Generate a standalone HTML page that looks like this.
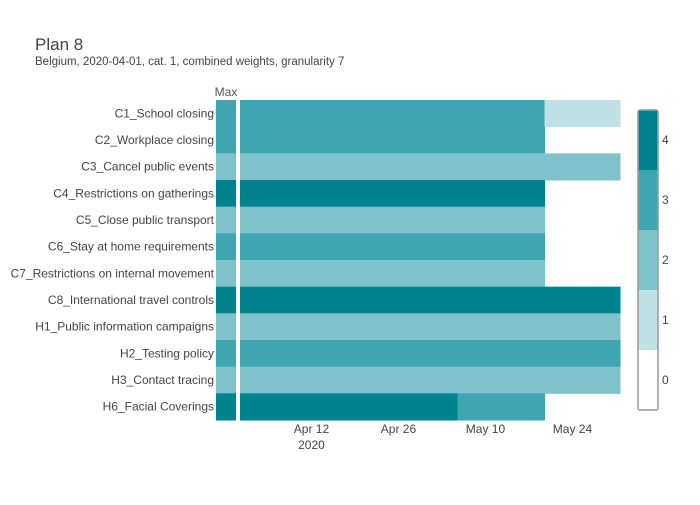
<!DOCTYPE html>
<html><head><meta charset="utf-8"><style>
body{margin:0;background:#fff;font-family:"Liberation Sans",sans-serif}
svg text{font-family:"Liberation Sans",sans-serif}
</style></head><body>
<svg width="700" height="500">
<text x="35" y="50" font-size="17" fill="#444">Plan 8</text>
<text x="35" y="65" font-size="11.5" fill="#444">Belgium, 2020-04-01, cat. 1, combined weights, granularity 7</text>
<text x="226" y="96" font-size="12" fill="#555" text-anchor="middle">Max</text>
<g id="cells"></g><g id="labels"></g><g id="xaxis"></g><g id="cbar"></g>
</svg>
<script>
const categories=["C1_School closing","C2_Workplace closing","C3_Cancel public events","C4_Restrictions on gatherings","C5_Close public transport","C6_Stay at home requirements","C7_Restrictions on internal movement","C8_International travel controls","H1_Public information campaigns","H2_Testing policy","H3_Contact tracing","H6_Facial Coverings"];
const maxValues=[3,3,2,4,2,3,2,4,2,3,2,4];
const weekValues=[
[3,3,3,3,3,3,3,1,1],
[3,3,3,3,3,3,3,null,null],
[2,2,2,2,2,2,2,2,2],
[4,4,4,4,4,4,4,null,null],
[2,2,2,2,2,2,2,null,null],
[3,3,3,3,3,3,3,null,null],
[2,2,2,2,2,2,2,null,null],
[4,4,4,4,4,4,4,4,4],
[2,2,2,2,2,2,2,2,2],
[3,3,3,3,3,3,3,3,3],
[2,2,2,2,2,2,2,2,2],
[4,4,4,4,4,3,3,null,null]];
const tickDays=[11,25,39,53];
const tickLabels=["Apr 12","Apr 26","May 10","May 24"];
const colorLevels=[0,1,2,3,4];
const colors=["#ffffff","#bfe0e4","#80c2ca","#3fa5b0","#00838f"];
const NS="http://www.w3.org/2000/svg";
const top0=100,bot=420,rowH=(bot-top0)/categories.length,pxDay=43.5/7,xEnd=620;
const xDay=d=>240+(d+0.5)*pxDay;
const yRow=i=>top0+i*rowH;
function mk(t,a,p){const e=document.createElementNS(NS,t);for(const k in a)e.setAttribute(k,a[k]);p.appendChild(e);return e;}
const cells=document.getElementById('cells'),labels=document.getElementById('labels');
categories.forEach((c,i)=>{
 const r=mk('rect',{x:216,y:yRow(i),width:20,height:rowH+0.5,fill:colors[maxValues[i]]},cells);
 
 
 weekValues[i].forEach((v,w)=>{
  if(v===null)return;
  const x0=xDay(w*7-0.5),x1=Math.min(xDay(w*7+6.5),xEnd);
  const e=mk('rect',{x:x0,y:yRow(i),width:x1-x0+0.5,height:rowH+0.5,fill:colors[v]},cells);
  
  
 });
 const t=mk('text',{x:214,y:yRow(i)+rowH/2+4,'font-size':12,fill:'#444','text-anchor':'end'},labels);
 t.textContent=c;
 
 
});
const xa=document.getElementById('xaxis');
tickDays.forEach((d,i)=>{
 const t=mk('text',{x:xDay(d),y:433,'font-size':12,fill:'#444','text-anchor':'middle'},xa);
 t.textContent=tickLabels[i];
 
 
});
const y2=mk('text',{x:xDay(tickDays[0]),y:449,'font-size':12,fill:'#444','text-anchor':'middle'},xa);
y2.textContent="2020";


const cb=document.getElementById('cbar');
const segH=60;
colorLevels.forEach((v,i)=>{
 const y=410-(i+1)*segH;
 const r=mk('rect',{x:638,y:y,width:20,height:segH,fill:colors[v]},cb);
 
 
 const t=mk('text',{x:662,y:y+segH/2+4,'font-size':12,fill:'#444'},cb);
 t.textContent=v;
 
 
});
const bd=mk('rect',{x:638,y:110,width:20,height:300,fill:'none',stroke:'#999','stroke-width':1.5,rx:2},cb);


</script>
</body></html>
